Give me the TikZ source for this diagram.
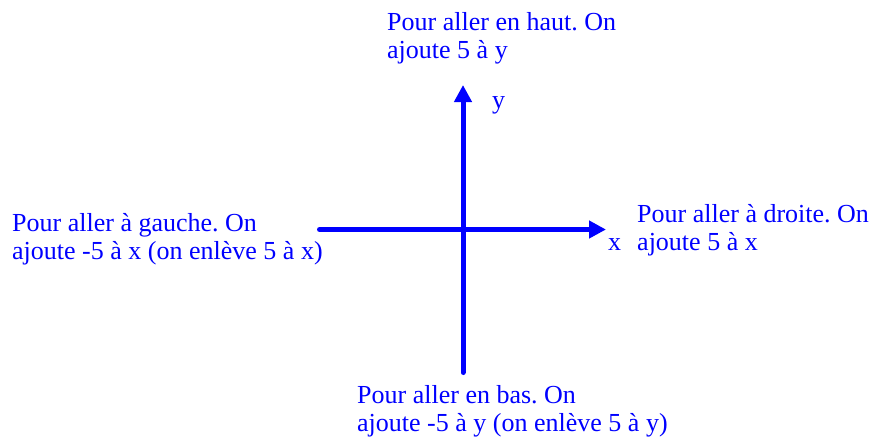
\documentclass[tikz,border=0pt]{standalone}
\usepackage{fontspec}
\setmainfont{Liberation Serif}
\usetikzlibrary{arrows.meta}
\definecolor{pureblue}{RGB}{0,0,255}
\frenchspacing
\tikzset{
  axisline/.style={draw=pureblue, line width=5pt, line cap=round, -{Triangle[length=17pt,width=17pt]}},
  lbl/.style={text=pureblue, font=\fontsize{26}{28}\selectfont\frenchspacing, inner sep=0pt, anchor=base west, align=left},
}
\begin{document}
\begin{tikzpicture}[x=1pt,y=-1pt]
\useasboundingbox (0,0) rectangle (875,440);
\coordinate (xs) at (319.5,229.5);
\coordinate (xe) at (606,229.5);
\coordinate (ys) at (463,372.5);
\coordinate (ye) at (463,85);
\draw[axisline] (xs) -- (xe);
\draw[axisline] (ys) -- (ye);
\node[lbl] (top) at (387,58) {Pour aller en haut. On\\ajoute 5 à y};
\node[lbl] (ylab) at (492,108) {y};
\node[lbl] (left) at (12,259) {Pour aller à gauche. On\\ajoute -5 à x (on enlève 5 à x)};
\node[lbl] (right) at (637,250) {Pour aller à droite. On\\ajoute 5 à x};
\node[lbl] (xlab) at (608,250) {x};
\node[lbl] (bottom) at (357,431) {Pour aller en bas. On\\ajoute -5 à y (on enlève 5 à y)};
\end{tikzpicture}
\end{document}
